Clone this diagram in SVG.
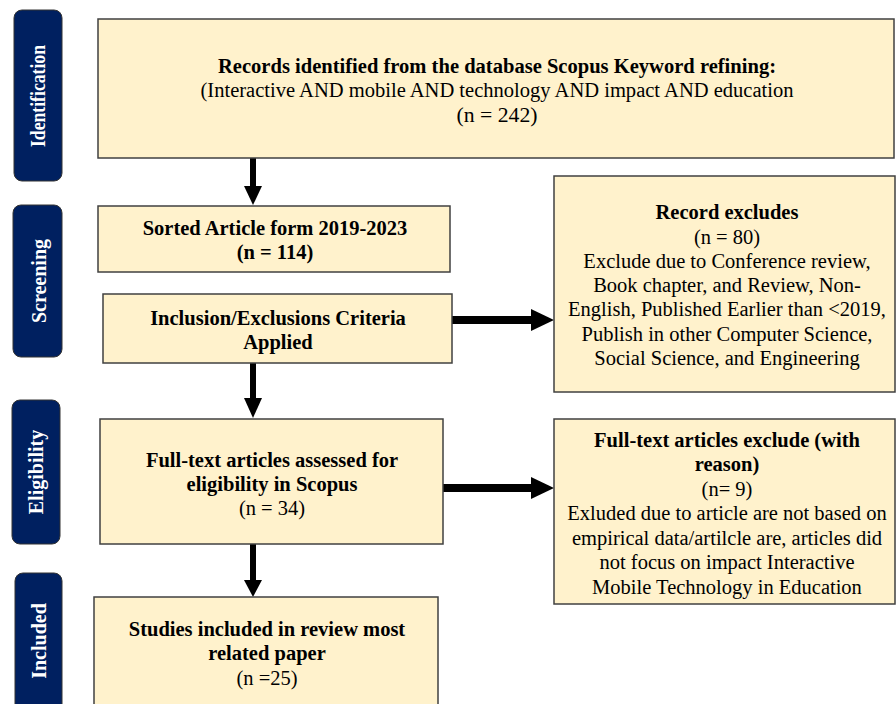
<svg xmlns="http://www.w3.org/2000/svg" width="896" height="704" viewBox="0 0 896 704">
<defs>
<style>
.side{fill:#002060;stroke:#333;stroke-width:1}
.sl{fill:#fff;font-family:"Liberation Serif",serif;font-weight:bold;font-size:20px;text-anchor:middle}
.box{fill:#FFF2CC;stroke:#404040;stroke-width:1.5}
.t{font-family:"Liberation Serif",serif;font-size:20.5px;fill:#000;text-anchor:middle}
.b{font-weight:bold}
.v{stroke:#000;stroke-width:6;fill:none}
.h{stroke:#000;stroke-width:8;fill:none}
</style>
</defs>
<rect width="896" height="704" fill="#fff"/>
<g id="stage-identification"><rect class="side" x="14" y="10" width="48" height="171" rx="8"/><text class="sl" transform="translate(45 96) rotate(-90)" textLength="102" lengthAdjust="spacingAndGlyphs">Identification</text></g>
<g id="stage-screening"><rect class="side" x="13" y="205" width="49" height="152" rx="8"/><text class="sl" transform="translate(46 281) rotate(-90)">Screening</text></g>
<g id="stage-eligibility"><rect class="side" x="12" y="400" width="48" height="144" rx="8"/><text class="sl" transform="translate(43 472) rotate(-90)">Eligibility</text></g>
<g id="stage-included"><rect class="side" x="15" y="573" width="47" height="150" rx="8"/><text class="sl" transform="translate(46 641) rotate(-90)">Included</text></g>

<g id="connectors">
<line class="v" x1="253" y1="158" x2="253" y2="188"/><polygon points="244,186 262,186 253,205"/>
<line class="v" x1="253" y1="363" x2="253" y2="400"/><polygon points="244,398 262,398 253,418"/>
<line class="v" x1="253" y1="544" x2="253" y2="582"/><polygon points="244,580 262,580 253,597"/>
<line class="h" x1="452" y1="320" x2="534" y2="320"/><polygon points="531,309 531,331 554,320"/>
<line class="h" x1="443" y1="488" x2="534" y2="488"/><polygon points="531,477 531,499 554,488"/>
</g>

<g id="records-identified"><rect class="box" x="98" y="19" width="796" height="139"/>
<text class="t b" x="497" y="73" textLength="558" lengthAdjust="spacingAndGlyphs">Records identified from the database Scopus Keyword refining:</text>
<text class="t" x="497" y="97" textLength="593" lengthAdjust="spacingAndGlyphs">(Interactive AND mobile AND technology AND impact AND education</text>
<text class="t" x="497" y="122" textLength="81" lengthAdjust="spacingAndGlyphs">(n = 242)</text></g>

<g id="sorted"><rect class="box" x="98" y="206" width="352" height="66"/>
<text class="t b" x="275" y="235">Sorted Article form 2019-2023</text>
<text class="t b" x="275" y="259">(n = 114)</text></g>

<g id="criteria"><rect class="box" x="103" y="294" width="349" height="69"/>
<text class="t b" x="278" y="325">Inclusion/Exclusions Criteria</text>
<text class="t b" x="278" y="349">Applied</text></g>

<g id="record-excludes"><rect class="box" x="554" y="176" width="341" height="216"/>
<text class="t b" x="727" y="219">Record excludes</text>
<text class="t" x="727" y="244">(n = 80)</text>
<text class="t" x="727" y="268">Exclude due to Conference review,</text>
<text class="t" x="727" y="292">Book chapter, and Review, Non-</text>
<text class="t" x="727" y="316">English, Published Earlier than &lt;2019,</text>
<text class="t" x="727" y="341">Publish in other Computer Science,</text>
<text class="t" x="727" y="365">Social Science, and Engineering</text></g>

<g id="assessed"><rect class="box" x="100" y="419" width="343" height="125"/>
<text class="t b" x="272" y="467">Full-text articles assessed for</text>
<text class="t b" x="272" y="491">eligibility in Scopus</text>
<text class="t" x="272" y="515">(n = 34)</text></g>

<g id="fulltext-excluded"><rect class="box" x="554" y="419" width="341" height="185"/>
<text class="t b" x="727" y="447">Full-text articles exclude (with</text>
<text class="t b" x="727" y="471">reason)</text>
<text class="t" x="727" y="496">(n= 9)</text>
<text class="t" x="727" y="520">Exluded due to article are not based on</text>
<text class="t" x="727" y="545">empirical data/artilcle are, articles did</text>
<text class="t" x="727" y="569">not focus on impact  Interactive</text>
<text class="t" x="727" y="594">Mobile Technology in Education</text></g>

<g id="included"><rect class="box" x="94" y="597" width="344" height="130"/>
<text class="t b" x="267" y="636">Studies included in review most</text>
<text class="t b" x="267" y="660">related paper</text>
<text class="t" x="267" y="685">(n =25)</text></g>
</svg>
